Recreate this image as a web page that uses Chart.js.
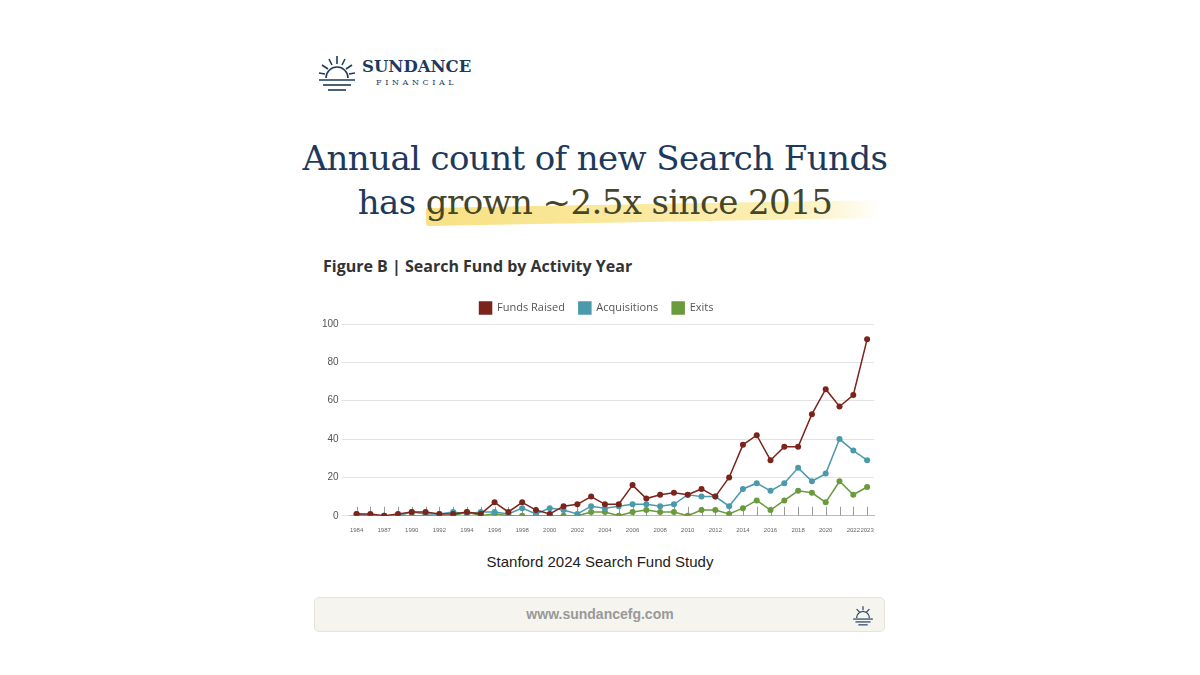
<!DOCTYPE html>
<html>
<head>
<meta charset="utf-8">
<script src="https://cdn.jsdelivr.net/npm/chart.js@4.4.1/dist/chart.umd.min.js"></script>
<style>
  body { margin: 0; width: 1200px; height: 675px; background: #fff; position: relative; overflow: hidden; font-family: "Open Sans", sans-serif; }
  .logo { position: absolute; left: 318px; top: 54px; display: flex; align-items: center; color: #1d3a5c; }
  .logo .name { margin-left: 6px; font-family: "DejaVu Serif", serif; }
  .logo .big { font-size: 16.5px; font-weight: bold; line-height: 20px; }
  .logo .small { font-size: 8px; letter-spacing: 3.6px; text-align: center; line-height: 12px; }
  h1 { position: absolute; left: 0; width: 1190px; top: 136px; margin: 0; text-align: center; font-family: "DejaVu Serif", serif; font-weight: normal; font-size: 34px; line-height: 44px; color: #1d3a5c; letter-spacing: -0.6px; }
  .hl { position: relative; color: #45452a; }
  .hl::before { content: ""; position: absolute; left: 0; right: -50px; top: 22px; height: 18px; background: linear-gradient(90deg, rgba(245,215,90,0.75), rgba(248,226,120,0.55) 80%, rgba(250,235,160,0)); border-radius: 8px 30px 30px 8px; z-index: -1; transform: rotate(-1deg); }
  .fig { position: absolute; left: 323px; top: 255px; font-size: 16px; font-weight: bold; color: #333; }
  #wrap { position: absolute; left: 319px; top: 288px; width: 585px; height: 249px; }
  .src { position: absolute; left: 0; width: 1200px; top: 553px; text-align: center; font-family: "Liberation Sans", Arial, sans-serif; font-size: 15px; color: #222; }
  .foot { position: absolute; left: 314px; top: 597px; width: 569px; height: 33px; background: #f5f4ee; border: 1px solid #e6e4da; border-radius: 5px; }
  .foot span { position: absolute; left: 0; width: 570px; top: 8px; text-align: center; font-family: "Liberation Sans", Arial, sans-serif; font-weight: bold; font-size: 14px; color: #999; }
  .foot svg { position: absolute; right: 10px; top: 6px; }
</style>
</head>
<body>
<div class="logo">
  <svg width="38" height="38" viewBox="0 0 38 38" stroke="#1d3a5c" stroke-width="1.6" fill="none">
    <path d="M8 24 A11 11 0 0 1 30 24"/>
    <line x1="19" y1="2" x2="19" y2="10"/><line x1="11" y1="5" x2="14" y2="11"/><line x1="27" y1="5" x2="24" y2="11"/>
    <line x1="4" y1="11" x2="10" y2="15"/><line x1="34" y1="11" x2="28" y2="15"/><line x1="1" y1="19" x2="7" y2="20"/><line x1="37" y1="19" x2="31" y2="20"/>
    <line x1="1" y1="26" x2="37" y2="26"/><line x1="5" y1="31" x2="33" y2="31"/><line x1="10" y1="36" x2="28" y2="36"/>
  </svg>
  <div class="name"><div class="big">SUNDANCE</div><div class="small">FINANCIAL</div></div>
</div>
<h1>Annual count of new Search Funds<br>has <span class="hl">grown ~2.5x since 2015</span></h1>
<div class="fig">Figure B | Search Fund by Activity Year</div>
<div id="wrap"><canvas id="chart"></canvas></div>
<div class="src">Stanford 2024 Search Fund Study</div>
<div class="foot"><span>www.sundancefg.com</span>
  <svg width="22" height="22" viewBox="0 0 38 38" stroke="#1d3a5c" stroke-width="2" fill="none">
    <path d="M8 24 A11 11 0 0 1 30 24"/><line x1="19" y1="4" x2="19" y2="11"/><line x1="8" y1="9" x2="13" y2="14"/><line x1="30" y1="9" x2="25" y2="14"/>
    <line x1="2" y1="26" x2="36" y2="26"/><line x1="6" y1="31" x2="32" y2="31"/><line x1="11" y1="36" x2="27" y2="36"/>
  </svg>
</div>
<script>
const yearLabels = ['1984','','1987','','1990','','1992','','1994','','1996','','1998','','2000','','2002','','2004','',
  '2006','','2008','','2010','','2012','','2014','','2016','','2018','','2020','','2022','2023'];
const fundsRaised = [1,1,0,1,2,2,1,1,2,1,7,2,7,3,1,5,6,10,6,6,16,9,11,12,11,14,10,20,37,42,29,36,36,53,66,57,63,92];
const acquisitions = [1,0,0,0,2,1,1,2,1,2,2,1,4,1,4,3,1,5,4,5,6,6,5,6,11,10,10,5,14,17,13,17,25,18,22,40,34,29];
const exits = [0,0,0,0,0,0,0,0,2,0,1,0,0,0,0,0,0,2,2,0,2,3,2,2,0,3,3,1,4,8,3,8,13,12,7,18,11,15];
const yTicks = [0, 20, 40, 60, 80, 100];

function series(label, data, color) {
  return { label, data, borderColor: color, backgroundColor: color, borderWidth: 1.5,
    pointRadius: 3, pointBackgroundColor: color, pointBorderWidth: 0, tension: 0 };
}

// small vertical tick marks above the x axis
const upTicks = {
  id: 'upTicks',
  beforeDatasetsDraw(chart) {
    const { ctx, scales: { x, y } } = chart;
    ctx.save();
    ctx.strokeStyle = '#999';
    ctx.lineWidth = 1;
    yearLabels.forEach((_, i) => {
      const px = Math.round(x.getPixelForValue(i)) + 0.5;
      ctx.beginPath();
      ctx.moveTo(px, y.getPixelForValue(0));
      ctx.lineTo(px, y.getPixelForValue(0) - 9);
      ctx.stroke();
    });
    ctx.restore();
  }
};

new Chart(document.getElementById('chart'), {
  type: 'line',
  data: {
    labels: yearLabels,
    datasets: [
      series('Funds Raised', fundsRaised, '#7b241c'),
      series('Acquisitions', acquisitions, '#4a9aab'),
      series('Exits', exits, '#6a9a3e')
    ]
  },
  plugins: [upTicks],
  options: {
    responsive: true,
    maintainAspectRatio: false,
    animation: false,
    layout: { padding: { right: 30 } },
    plugins: {
      legend: { position: 'top', labels: { boxWidth: 12, boxHeight: 12, padding: 14, color: '#555', font: { family: 'Open Sans', size: 11 } } },
      tooltip: { enabled: false }
    },
    scales: {
      x: {
        offset: true,
        grid: { display: false },
        border: { color: '#bbb' },
        ticks: { autoSkip: false, maxRotation: 0, color: '#666', font: { size: 6 } }
      },
      y: {
        min: 0, max: 100,
        afterBuildTicks: axis => { axis.ticks = yTicks.map(v => ({ value: v })); },
        grid: { color: '#e3e3e3' },
        border: { display: false },
        ticks: { color: '#555', font: { size: 10 } }
      }
    }
  }
});
</script>
</body>
</html>
